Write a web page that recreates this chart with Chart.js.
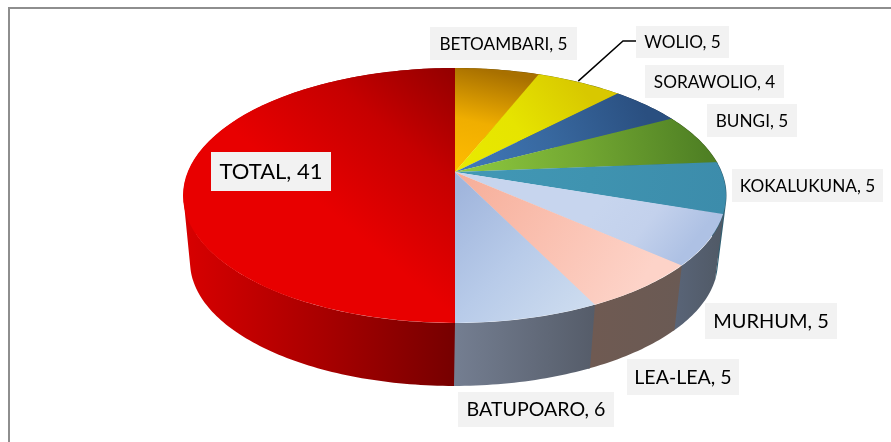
<!DOCTYPE html>
<html><head><meta charset="utf-8">
<style>html,body{margin:0;padding:0;background:#fff}canvas{display:block}</style>
<script src="https://cdn.jsdelivr.net/npm/chart.js@4"></script>
</head><body><canvas id="c" width="891" height="442"></canvas>
<script>
const categories = ['BETOAMBARI','WOLIO','SORAWOLIO','BUNGI','KOKALUKUNA','MURHUM','LEA-LEA','BATUPOARO','TOTAL'];
const values = [5,5,4,5,5,5,5,6,41];

// label boxes: left, top, right, bottom, font size
const labelBoxes = [
 [430,27,577,60,17.2],[636,26,729,58,17.2],[645,65,784,98,17.2],[707,104,797,137,17.2],[732,169,883,202,17.2],
 [705,303,837,339,20],[627,359,739,395,19.6],[458,392,614,427,19.6],[211,152,331,191,22]
];
// top-face shading: x0,y0,x1,y1,[stops]
const topShades = [
 [455,172,478,68,['#ffbc00','#f0ae00','#a87000']],
 [455,172,575,78,['#e8ea00','#e6e400','#d8c800']],
 [455,172,640,98,['#4079bb','#38689f','#2a4f80']],
 [455,172,705,140,['#8fca40','#73a832','#4f8024']],
 [455,172,725,200,['#4298b6','#3f93b0','#3c8cab']],
 [600,205,675,265,['#c7d5ee','#c3d1ec','#aec1e4']],
 [455,172,640,285,['#f6ad98','#fac0b0','#fdd3c8']],
 [465,185,590,305,['#a1b6dd','#b8cbe9','#cddcef']],
 [475,70,345,225,['#8c0000','#c60000','#e80000']]
];
// wall shading: x0,x1,[stops]
const wallShades = [
 [455,540,['#6e4d00','#6e4d00']],[540,620,['#77770a','#77770a']],[620,670,['#1e3a5c','#1e3a5c']],
 [670,715,['#3c5c1a','#3c5c1a']],[715,727,['#2f5f72','#2f5f72']],[676,727,['#596477','#4f5864']],
 [592,682,['#6f5a52','#6a5a54']],[455,596,['#747e91','#555c69']],[190,455,['#d60000','#a80000','#760000']]
];
const APEX = {x:455,y:172}, TOP = {cx:454.5,cy:195.5,rx:271.5,ry:127.5}, BASE = {cx:453.5,cy:262,k:0.972};
const up = APEX.y-(TOP.cy-TOP.ry), down = TOP.cy+TOP.ry-APEX.y;
const c3 = -(down-up)/(down+up), A3 = down*(1+c3), R3 = TOP.rx*Math.sqrt(1-c3*c3);

function project(deg){
  const r = deg*Math.PI/180, u = Math.sin(r), v = -Math.cos(r), w = 1+c3*v;
  return {x:APEX.x+R3*u/w, y:APEX.y+A3*v/w};
}
function lowerRim(p){ return {x:BASE.cx+BASE.k*(p.x-TOP.cx), y:BASE.cy+BASE.k*(p.y-TOP.cy)}; }
function gradStops(g,stops){ stops.forEach((s,i)=>g.addColorStop(i/(stops.length-1),s)); return g; }

const pie3d = {
  id:'pie3d',
  beforeDraw(chart){
    const ctx = chart.ctx;
    ctx.save();
    ctx.fillStyle='#fff'; ctx.fillRect(0,0,891,442);
    ctx.strokeStyle='#8e8e8e'; ctx.lineWidth=2;
    ctx.strokeRect(9,8,1000,1000);
    ctx.restore();
  },
  beforeDatasetsDraw(chart){
    const ctx = chart.ctx, arcs = chart.getDatasetMeta(0).data, last = arcs.length-1;
    const toDeg = a => (a+Math.PI/2)*180/Math.PI;
    const seam = toDeg(arcs[last].startAngle);
    const warp = d => {
      if(d>seam) return 180+(d-seam)*180/(360-seam);
      const t = d*180/seam;
      return t-1.3*Math.sin(2*t*Math.PI/180);
    };

    // walls: one quad per step, all wound the same way, so the silhouette is filled
    arcs.forEach((el,i)=>{
      const a = warp(toDeg(el.startAngle)), b = warp(toDeg(el.endAngle))+0.4;
      const s = wallShades[i];
      ctx.beginPath();
      for(let d=a;d<b;d+=1){
        const p1=project(d),p2=project(Math.min(d+1,b)),q1=lowerRim(p1),q2=lowerRim(p2);
        let pts=[p1,p2,q2,q1], area=0;
        pts.forEach((p,j)=>{const n=pts[(j+1)%4]; area+=p.x*n.y-n.x*p.y;});
        if(area<0) pts.reverse();
        pts.forEach((p,j)=> j?ctx.lineTo(p.x,p.y):ctx.moveTo(p.x,p.y));
        ctx.closePath();
      }
      ctx.fillStyle = gradStops(ctx.createLinearGradient(s[0],0,s[1],0),s[2]);
      ctx.fill();
    });

    // top face: every library arc is drawn under its own affine map
    ctx.save();
    ctx.beginPath();
    ctx.ellipse(TOP.cx,TOP.cy,TOP.rx,TOP.ry,0,0,Math.PI*2);
    ctx.clip();
    arcs.forEach((el,i)=>{
      const s0=el.startAngle,e0=el.endAngle,R0=el.outerRadius,c0=el.circumference,o0=el.options;
      const n = (e0-s0)>Math.PI/2 ? 2 : 1;
      const sh = topShades[i];
      for(let k=0;k<n;k++){
        const s = s0+(e0-s0)*k/n, e = s0+(e0-s0)*(k+1)/n+0.004;
        const pa = project(warp(Math.min(toDeg(s),360))), pb = project(warp(Math.min(toDeg(e),360)));
        const ax=Math.cos(s)*R0, ay=Math.sin(s)*R0, bx=Math.cos(e)*R0, by=Math.sin(e)*R0;
        const det=ax*by-bx*ay;
        const i00=by/det,i01=-bx/det,i10=-ay/det,i11=ax/det;
        const qax=pa.x-APEX.x,qay=pa.y-APEX.y,qbx=pb.x-APEX.x,qby=pb.y-APEX.y;
        const m00=qax*i00+qbx*i10,m01=qax*i01+qbx*i11,m10=qay*i00+qby*i10,m11=qay*i01+qby*i11;
        const tx=APEX.x-m00*el.x-m01*el.y, ty=APEX.y-m10*el.x-m11*el.y;
        // gradient given in picture space, re-expressed in the arc's local space
        const dx=sh[2]-sh[0],dy=sh[3]-sh[1],dd=dx*dx+dy*dy;
        const gx=(m00*dx+m10*dy)/dd, gy=(m01*dx+m11*dy)/dd, gg=gx*gx+gy*gy;
        const mdet=m00*m11-m01*m10, px=sh[0]-tx, py=sh[1]-ty;
        const u0=(m11*px-m01*py)/mdet, v0=(-m10*px+m00*py)/mdet;
        ctx.save();
        ctx.transform(m00,m10,m01,m11,tx,ty);
        const g = gradStops(ctx.createLinearGradient(u0,v0,u0+gx/gg,v0+gy/gg),sh[4]);
        el.startAngle=s; el.endAngle=e; el.circumference=e-s; el.outerRadius=R0*1.6;
        el.options={backgroundColor:g,borderColor:'transparent',borderWidth:0,borderAlign:'center',offset:0,spacing:0,circular:true,borderRadius:0,borderDash:[],borderDashOffset:0,borderJoinStyle:'round'};
        el.draw(ctx);
        ctx.restore();
      }
      el.startAngle=s0; el.endAngle=e0; el.circumference=c0; el.outerRadius=R0; el.options=o0;
    });
    ctx.restore();

    // leader line of WOLIO
    ctx.save();
    ctx.strokeStyle='#000'; ctx.lineWidth=1.5;
    const wolioMid = project(warp(toDeg((arcs[1].startAngle+arcs[1].endAngle)/2)));
    ctx.beginPath(); ctx.moveTo(wolioMid.x-1,wolioMid.y-1); ctx.lineTo(623,41); ctx.lineTo(636,41); ctx.stroke();

    // data labels
    ctx.textAlign='center'; ctx.textBaseline='middle';
    categories.forEach((name,i)=>{
      const [l,t,r,b,fs]=labelBoxes[i];
      ctx.fillStyle='#f2f2f2'; ctx.fillRect(l,t,r-l,b-t);
      ctx.fillStyle='#000'; ctx.font=fs+'px Lato';
      ctx.fillText(name+', '+values[i],(l+r)/2,(t+b)/2+0.5);
    });
    ctx.restore();
    return false;
  }
};

new Chart(document.getElementById('c').getContext('2d'),{
  type:'pie',
  data:{labels:categories,datasets:[{data:values,borderWidth:0,backgroundColor:topShades.map(s=>s[4][1])}]},
  options:{responsive:false,animation:false,plugins:{legend:{display:false},tooltip:{enabled:false},title:{display:false}}},
  plugins:[pie3d]
});
</script></body></html>
